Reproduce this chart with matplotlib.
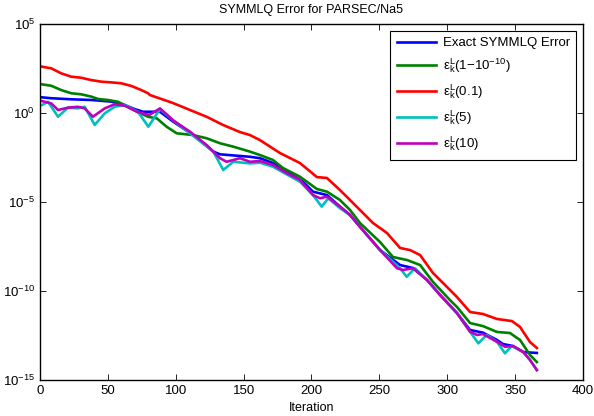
import numpy as np
import matplotlib
matplotlib.use("Agg")
import matplotlib.pyplot as plt

plt.rcParams["font.family"] = ["Liberation Sans", "DejaVu Sans"]
plt.rcParams["mathtext.default"] = "regular"

# ---- DATA (iteration, log10 of error) ----
exact_x = [1.5, 8.3, 23, 38, 52.5, 62.4, 69.8, 75.9, 88.4, 98.2, 112.9, 127.7, 132.6,
           154.7, 162.1, 171.6, 182, 193.7, 201.1, 211.4, 221, 228.4, 235.7, 250.5,
           265.2, 274.8, 285.1, 294.7, 307.2, 316.8, 326.3, 336.6, 341.1, 348.4, 355.8, 366]
exact_log = [0.88, 0.83, 0.77, 0.73, 0.64, 0.45, 0.22, 0.07, 0.07, -0.49, -1.24, -2.17, -2.32,
             -2.46, -2.54, -2.81, -3.30, -3.86, -4.42, -4.61, -5.26, -5.73, -6.39, -7.70,
             -8.54, -8.71, -9.38, -10.22, -11.24, -12.19, -12.34, -12.75, -12.98, -13.09, -13.43, -13.48]

green_x = [1.5, 8.3, 15.6, 23, 30.4, 37.8, 42.7, 50.1, 57.5, 64.8, 72.2, 79.6, 86, 93.3,
           100.7, 112.9, 122.8, 132.6, 142.4, 154.7, 162, 171.6, 179, 191.5, 204, 211.4,
           221, 228.4, 235.7, 250.5, 260, 270.4, 280, 289.5, 302, 307.2, 316.8, 326.3,
           336.6, 346.2, 353.6, 361, 366]
green_log = [1.61, 1.53, 1.29, 1.11, 1.05, 0.92, 0.79, 0.73, 0.63, 0.35, 0.04, -0.21, -0.30, -0.77,
             -1.14, -1.24, -1.42, -1.70, -1.89, -2.17, -2.36, -2.64, -3.09, -3.58, -4.27, -4.42,
             -4.89, -5.45, -6.18, -7.25, -8.09, -8.26, -8.54, -9.49, -10.51, -10.90, -11.80, -11.97,
             -12.30, -12.36, -12.75, -13.60, -13.99]

red_x = [1.5, 8.3, 15.6, 23, 30.4, 37.8, 45.2, 52.5, 59.9, 67.3, 74.6, 79.6, 81, 98, 110.5,
         123, 134.8, 147.3, 154.7, 162, 176.8, 191.5, 204, 211.4, 221, 228.4, 245.3, 255.6,
         265.2, 272.6, 280, 289.5, 302, 307.2, 316.8, 326.3, 336.6, 347.7, 353.6, 361, 366]
red_log = [2.60, 2.51, 2.23, 2.04, 1.98, 1.85, 1.76, 1.72, 1.67, 1.52, 1.29, 1.11, 1.01, 0.56, 0.17,
           -0.22, -0.67, -1.07, -1.24, -1.52, -2.25, -2.81, -3.60, -3.65, -4.33, -4.89, -6.18, -6.74,
           -7.58, -7.70, -7.98, -8.99, -9.94, -10.34, -11.18, -11.29, -11.57, -11.69, -12.02, -12.87, -13.20]

cyan_x = [1.5, 5.9, 13.3, 20.6, 28, 32.9, 40.3, 47.7, 55, 62.4, 72.2, 79.8, 88.4, 98.2,
          110.5, 127.7, 135, 142.4, 154.7, 162.1, 171.6, 191.5, 201.1, 207.5, 212.4, 221,
          228.4, 235.7, 250.5, 265.2, 270.1, 276.2, 285.1, 294.7, 307.2, 316.8, 322.9, 329,
          336.6, 342.5, 347.5, 355.8, 361, 366]
cyan_log = [0.45, 0.63, -0.21, 0.30, 0.26, 0.35, -0.67, -0.02, 0.35, 0.45, 0.07, -0.77, 0.22, -0.42,
            -1.14, -2.17, -3.20, -2.74, -2.83, -2.79, -3.02, -3.86, -4.61, -5.26, -4.79, -5.35,
            -5.73, -6.39, -7.70, -8.72, -9.20, -8.72, -9.38, -10.22, -11.24, -12.29, -12.94, -12.47,
            -12.85, -13.50, -13.09, -13.41, -13.88, -14.44]

magenta_x = [1.5, 8.3, 13.3, 20.6, 28, 32.9, 39, 47.7, 55, 62.4, 72.2, 80.5, 88.4, 98.2,
             110.5, 122.8, 132.6, 137.5, 147.3, 154.7, 162.1, 171.6, 182, 191.5, 201.1, 206.3,
             211.4, 221, 228.4, 235.7, 250.5, 263, 267.4, 274.8, 285.1, 294.7, 307.2, 316.8,
             321.9, 326.3, 336.6, 342.5, 348.4, 355.8, 361, 366]
magenta_log = [0.67, 0.54, 0.17, 0.30, 0.35, 0.26, -0.21, 0.26, 0.49, 0.41, 0.05, -0.11, 0.26, -0.42,
               -1.05, -1.80, -2.54, -2.74, -2.54, -2.74, -2.70, -2.92, -3.39, -3.76, -4.61, -4.79,
               -4.70, -5.26, -5.73, -6.39, -7.70, -8.72, -8.82, -8.72, -9.38, -10.22, -11.24, -12.29,
               -12.47, -12.42, -12.85, -13.13, -13.09, -13.41, -13.88, -14.44]

labels = ["Exact SYMMLQ Error",
          r"ε$_k^L$(1$-$10$^{-10}$)",
          r"ε$_k^L$(0.1)",
          r"ε$_k^L$(5)",
          r"ε$_k^L$(10)"]
colors = ["#0000ff", "#008000", "#ff0000", "#00bfbf", "#bf00bf"]

series = [(exact_x, exact_log), (green_x, green_log), (red_x, red_log),
          (cyan_x, cyan_log), (magenta_x, magenta_log)]

# ---- PLOT ----
fig = plt.figure(figsize=(5.94, 4.16), dpi=100)
ax = fig.add_axes([0.0673, 0.0865, 0.9142, 0.8558])

for (xs, ls), c, lab in zip(series, colors, labels):
    ax.semilogy(xs, 10.0 ** np.array(ls), color=c, lw=1.9, label=lab,
                solid_joinstyle="round")

ax.set_xlim(0, 400)
ax.set_ylim(1e-15, 1e5)
ax.set_xticks(np.arange(0, 401, 50))
ax.set_yticks([1e-15, 1e-10, 1e-5, 1e0, 1e5])
ax.minorticks_off()
ax.tick_params(direction="in", top=True, right=True, labelsize=9.5, length=4, width=0.6)
for s in ax.spines.values():
    s.set_linewidth(1.0)

ax.set_title("SYMMLQ Error for PARSEC/Na5", fontsize=9, pad=8)
ax.set_xlabel("Iteration", fontsize=9, labelpad=4)

leg = ax.legend(loc="upper right", fontsize=9.5, handlelength=3.0, fancybox=False,
                framealpha=1, edgecolor="black", borderaxespad=0.5, labelspacing=0.55,
                borderpad=0.5, handletextpad=0.5)
leg.get_frame().set_linewidth(0.8)

fig.savefig("out.png", dpi=100)
